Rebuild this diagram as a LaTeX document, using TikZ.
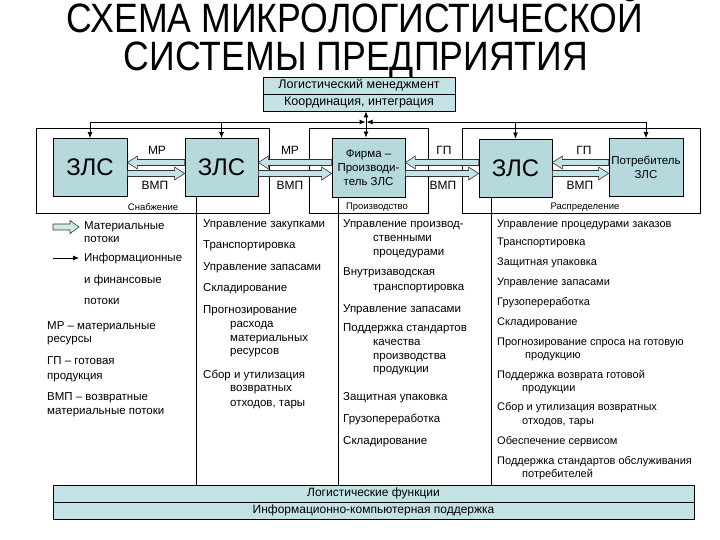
\documentclass[tikz,border=0pt]{standalone}
\usepackage{fontspec}
\setmainfont{Liberation Sans}
\newfontfamily\titlefont[FakeStretch=0.87]{Liberation Sans}
\usetikzlibrary{arrows.meta,calc}
\definecolor{boxfill}{HTML}{B5D9DD}
\definecolor{bandfill}{HTML}{C3E2E5}
\definecolor{arrfill}{HTML}{C2E4E6}
\definecolor{legfill}{HTML}{D2EBDD}
\newcommand\fsCol{\fontsize{11.5}{13}\selectfont}
\newcommand\fsColB{\fontsize{11}{13}\selectfont}
\newcommand\fsLab{\fontsize{12}{14}\selectfont}
\newcommand\fsSmall{\fontsize{9.5}{11}\selectfont}
\newcommand\fsBig{\fontsize{24}{26}\selectfont}
\newcommand\bArrowL[3]{%
  \draw[barrow] let \p1=(#1.east), \p2=(#2.west) in
  (\x1,#3) -- (\x1+10pt,#3+6.5pt) -- (\x1+10pt,#3+3pt) -- (\x2,#3+3pt)
  -- (\x2,#3-3pt) -- (\x1+10pt,#3-3pt) -- (\x1+10pt,#3-6.5pt) -- cycle;}
\newcommand\bArrowR[3]{%
  \draw[barrow] let \p1=(#1.east), \p2=(#2.west) in
  (\x2,#3) -- (\x2-10pt,#3+6.5pt) -- (\x2-10pt,#3+3pt) -- (\x1,#3+3pt)
  -- (\x1,#3-3pt) -- (\x2-10pt,#3-3pt) -- (\x2-10pt,#3-6.5pt) -- cycle;}
\tikzset{
  frame/.style={draw=black, line width=0.8pt},
  zls/.style={draw=black, fill=boxfill, line width=0.8pt, minimum width=73pt,
    minimum height=58pt, inner sep=0pt, align=center},
  band/.style={draw=black, fill=bandfill, line width=0.8pt, minimum height=17pt,
    inner sep=0pt, font=\fsLab},
  barrow/.style={draw=black!80, fill=arrfill, line width=0.6pt, line join=miter},
  info/.style={draw=black, line width=0.8pt, -{Latex[length=6pt,width=5pt]}},
  sep/.style={draw=black, line width=0.8pt},
  txt/.style={anchor=west, inner sep=0pt, font=\fsCol, text height=8pt, text depth=2.5pt},
  txtb/.style={txt, font=\fsColB},
  lab/.style={inner sep=0pt, font=\fsLab},
  flab/.style={inner sep=0pt, font=\fsSmall},
  ttl/.style={anchor=base, inner sep=0pt, font=\titlefont\fontsize{41}{43}\selectfont}
}
\begin{document}
\begin{tikzpicture}[x=1pt,y=1pt]
\useasboundingbox[fill=white] (0,0) rectangle (720,-540);
% title
\node[ttl] (t1) at (355,-33) {СХЕМА МИКРОЛОГИСТИЧЕСКОЙ};
\node[ttl] (t2) at (356,-71) {СИСТЕМЫ ПРЕДПРИЯТИЯ};
% management
\node[band, minimum width=192pt, font=\fontsize{12.5}{14}\selectfont] (mg1) at (359,-85.5) {Логистический менеджмент};
\node[band, minimum width=192pt, font=\fontsize{12.5}{14}\selectfont] (mg2) at (359,-102.5) {Координация, интеграция};
% frames
\draw[frame] (36,-128) rectangle (269,-213);
\draw[frame] (309,-128) rectangle (428,-213);
\draw[frame] (462,-128) rectangle (700,-213);
\node[flab] (fl1) at (153,-207) {Снабжение};
\node[flab] (fl2) at (377,-207) {Производство};
\node[flab] (fl3) at (585,-207) {Распределение};
% boxes
\node[zls, minimum width=74pt, font=\fsBig] (z1) at (90,-167.5) {ЗЛС};
\node[zls, font=\fsBig] (z2) at (221.5,-167.5) {ЗЛС};
\node[zls, minimum height=59pt, font=\fontsize{11.5}{14}\selectfont] (firm) at (368.5,-167.5) {Фирма –\\Производи-\\тель ЗЛС};
\node[zls, font=\fsBig] (z3) at (515.5,-168) {ЗЛС};
\node[zls, minimum width=74pt, font=\fontsize{11.5}{14}\selectfont] (cons) at (646,-167.5) {Потребитель\\ЗЛС};
% info arrows
\coordinate (hub) at (366,-122);
\draw[info] (z1.north |- hub) -- ([xshift=-0.5pt]hub);
\draw[info] (cons.north |- hub) -- ([xshift=0.5pt]hub);
\draw[info] (z1.north |- hub) -- (z1.north);
\draw[info] (z2.north |- hub) -- (z2.north);
\draw[info] (z3.north |- hub) -- (z3.north);
\draw[info] (cons.north |- hub) -- (cons.north);
\draw[info, {Latex[length=6pt,width=5pt]}-{Latex[length=6pt,width=5pt]}] (mg2.south -| hub) -- (firm.north -| hub);
% material arrows
\bArrowL{z1}{z2}{-162.5pt}
\bArrowR{z1}{z2}{-173.5pt}
\bArrowL{z2}{firm}{-162.5pt}
\bArrowR{z2}{firm}{-173.5pt}
\bArrowL{firm}{z3}{-162.5pt}
\bArrowR{firm}{z3}{-173.5pt}
\bArrowL{z3}{cons}{-162.5pt}
\bArrowR{z3}{cons}{-173.5pt}
\node[lab] (l1) at (157,-150) {МР};
\node[lab] (l2) at (155,-185) {ВМП};
\node[lab] (l3) at (290,-150) {МР};
\node[lab] (l4) at (290,-185) {ВМП};
\node[lab] (l5) at (444,-150) {ГП};
\node[lab] (l6) at (443,-185) {ВМП};
\node[lab] (l7) at (584,-150) {ГП};
\node[lab] (l8) at (580,-185) {ВМП};
% bottom band
\node[band, minimum width=641pt] (b1) at (373.5,-493.5) {Логистические функции};
\node[band, minimum width=641pt] (b2) at (373.5,-510.5) {Информационно-компьютерная поддержка};
% column separators
\draw[sep] (z2.south -| 196,0) -- (b1.north -| 196,0);
\draw[sep] (firm.south -| 338,0) -- (b1.north -| 338,0);
\draw[sep] (z3.south -| 491,0) -- (b1.north -| 491,0);
% legend
\coordinate (lgA) at (53,-227);
\coordinate (lgB) at (79,-227);
\draw[barrow, fill=legfill] ($(lgB)$) -- ($(lgB)+(-9,6.5)$) -- ($(lgB)+(-9,3)$) -- ($(lgA)+(0,3)$) -- ($(lgA)+(0,-3)$) -- ($(lgB)+(-9,-3)$) -- ($(lgB)+(-9,-6.5)$) -- cycle;
\coordinate (liA) at (53,-258);
\coordinate (liB) at (79,-258);
\draw[info] (liA) -- (liB);
\node[txt] (g1) at (84,-227) {Материальные};
\node[txt] (g2) at (84,-240) {потоки};
\node[txt] (g3) at (84,-259) {Информационные};
\node[txt] (g4) at (84,-281) {и финансовые};
\node[txt] (g5) at (84,-302) {потоки};
\node[txt] (g6) at (47,-327) {МР – материальные};
\node[txt] (g7) at (47,-340) {ресурсы};
\node[txt] (g8) at (47,-362) {ГП – готовая};
\node[txt] (g9) at (47,-377) {продукция};
\node[txt] (g10) at (47,-398) {ВМП – возвратные};
\node[txt] (g11) at (47,-412) {материальные потоки};
% column 2
\node[txt] (a1) at (203,-225) {Управление закупками};
\node[txt] (a2) at (203,-246) {Транспортировка};
\node[txt] (a3) at (203,-268) {Управление запасами};
\node[txt] (a4) at (203,-289) {Складирование};
\node[txt] (a5) at (203,-311) {Прогнозирование};
\node[txt] (a6) at (230,-325) {расхода};
\node[txt] (a7) at (230,-339) {материальных};
\node[txt] (a8) at (230,-352) {ресурсов};
\node[txt] (a9) at (203,-376) {Сбор и утилизация};
\node[txt] (a10) at (230,-389) {возвратных};
\node[txt] (a11) at (230,-404) {отходов, тары};
% column 3
\node[txt] (c1) at (343,-225) {Управление производ-};
\node[txt] (c2) at (373,-239) {ственными};
\node[txt] (c3) at (373,-253) {процедурами};
\node[txt] (c4) at (343,-273) {Внутризаводская};
\node[txt] (c5) at (373,-288) {транспортировка};
\node[txt] (c6) at (343,-310) {Управление запасами};
\node[txt] (c7) at (343,-329) {Поддержка стандартов};
\node[txt] (c8) at (373,-343) {качества};
\node[txt] (c9) at (373,-357) {производства};
\node[txt] (c10) at (373,-370) {продукции};
\node[txt] (c11) at (343,-398) {Защитная упаковка};
\node[txt] (c12) at (343,-420) {Грузопереработка};
\node[txt] (c13) at (343,-442) {Складирование};
% column 4
\node[txtb] (d1) at (497,-225) {Управление процедурами заказов};
\node[txtb] (d2) at (497,-243) {Транспортировка};
\node[txtb] (d3) at (497,-263) {Защитная упаковка};
\node[txtb] (d4) at (497,-283) {Управление запасами};
\node[txtb] (d5) at (497,-303) {Грузопереработка};
\node[txtb] (d6) at (497,-323) {Складирование};
\node[txtb] (d7) at (497,-343) {Прогнозирование спроса на готовую};
\node[txtb] (d8) at (525,-356) {продукцию};
\node[txtb] (d9) at (497,-376) {Поддержка возврата готовой};
\node[txtb] (d10) at (522,-389) {продукции};
\node[txtb] (d11) at (497,-408) {Сбор и утилизация возвратных};
\node[txtb] (d12) at (522,-422) {отходов, тары};
\node[txtb] (d13) at (497,-442) {Обеспечение сервисом};
\node[txtb] (d14) at (497,-462) {Поддержка стандартов обслуживания};
\node[txtb] (d15) at (522,-475) {потребителей};
\end{tikzpicture}
\end{document}
